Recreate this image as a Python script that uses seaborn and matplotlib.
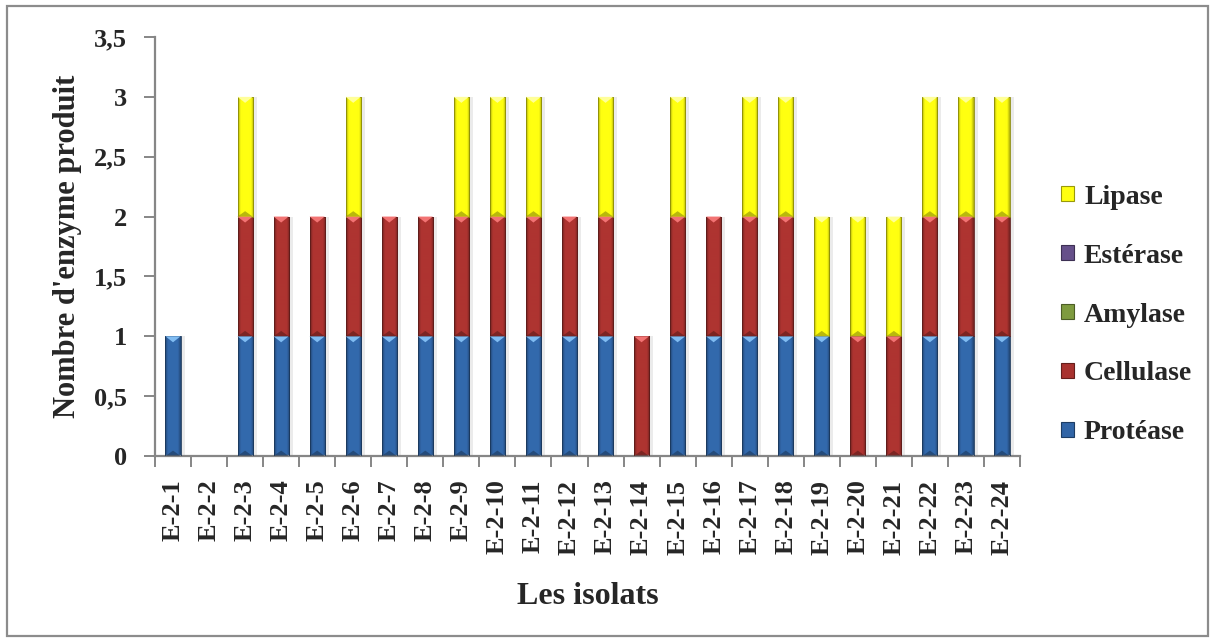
import numpy as np
import pandas as pd
import matplotlib
matplotlib.use("Agg")
import matplotlib.pyplot as plt
import seaborn as sns
from matplotlib.patches import Patch, Rectangle, Polygon
from matplotlib.colors import to_rgb

# ---- data -------------------------------------------------------------
isolats = ["E-2-1", "E-2-2", "E-2-3", "E-2-4", "E-2-5", "E-2-6", "E-2-7", "E-2-8",
           "E-2-9", "E-2-10", "E-2-11", "E-2-12", "E-2-13", "E-2-14", "E-2-15", "E-2-16",
           "E-2-17", "E-2-18", "E-2-19", "E-2-20", "E-2-21", "E-2-22", "E-2-23", "E-2-24"]

protease  = [1, 0, 1, 1, 1, 1, 1, 1, 1, 1, 1, 1, 1, 0, 1, 1, 1, 1, 1, 0, 0, 1, 1, 1]
cellulase = [0, 0, 1, 1, 1, 1, 1, 1, 1, 1, 1, 1, 1, 1, 1, 1, 1, 1, 0, 1, 1, 1, 1, 1]
amylase   = [0, 0, 0, 0, 0, 0, 0, 0, 0, 0, 0, 0, 0, 0, 0, 0, 0, 0, 0, 0, 0, 0, 0, 0]
esterase  = [0, 0, 0, 0, 0, 0, 0, 0, 0, 0, 0, 0, 0, 0, 0, 0, 0, 0, 0, 0, 0, 0, 0, 0]
lipase    = [0, 0, 1, 0, 0, 1, 0, 0, 1, 1, 1, 0, 1, 0, 1, 0, 1, 1, 1, 1, 1, 1, 1, 1]

enzymes = ["Protéase", "Cellulase", "Amylase", "Estérase", "Lipase"]
series = [protease, cellulase, amylase, esterase, lipase]
colors = ["#3165A6", "#A8322F", "#7E9B3F", "#66508A", "#FFFF10"]
highlights = ["#80BCF2", "#F27373", "#C4E07A", "#A68CCC", "#FFFF9A"]

y_ticks = [0, 0.5, 1, 1.5, 2, 2.5, 3, 3.5]
y_tick_labels = ["0", "0,5", "1", "1,5", "2", "2,5", "3", "3,5"]

# ---- style ------------------------------------------------------------
sns.set_theme(style="white")
plt.rcParams["font.family"] = ["Liberation Serif", "DejaVu Serif"]
plt.rcParams["font.weight"] = "bold"

W, H = 1216, 642
fig = plt.figure(figsize=(W / 100, H / 100), dpi=100)
fig.patch.set_facecolor("white")
ax = fig.add_axes([155 / W, 1 - 456 / H, (1020 - 155) / W, (456 - 37) / H])

df = pd.DataFrame({"isolat": isolats})
for name, vals in zip(enzymes, series):
    df[name] = vals

# ---- stacked bars -----------------------------------------------------
bottom = np.zeros(len(isolats))
segments = []
for name, col, hl in zip(enzymes, colors, highlights):
    vals = df[name].to_numpy(dtype=float)
    n_before = len(ax.patches)
    sns.barplot(data=df, x="isolat", y=name, bottom=bottom, color=col,
                saturation=1, width=0.42, ax=ax, edgecolor="none", linewidth=0)
    for p in ax.patches[n_before:]:
        segments.append((p, col, hl))
    bottom = bottom + vals

ax.set_xlim(-0.5, len(isolats) - 0.5)
ax.set_ylim(0, 3.5)

# bevelled look on every segment, with a soft shadow on the right
px_x = (len(isolats)) / (1020 - 155)
px_y = 3.5 / (456 - 37)
prof = np.linspace(0, 1, 64)
shade = 0.66 + 0.38 * np.clip(np.sin(np.pi * prof) * 1.8, 0, 1)
for p, col, hl in segments:
    x0, y0 = p.get_x(), p.get_y()
    w, h = p.get_width(), p.get_height()
    if h <= 0:
        continue
    base = np.array(to_rgb(col))
    ax.add_patch(Rectangle((x0 + 2 * px_x, y0), w + 2 * px_x, h, fc="#000000",
                           alpha=0.08, ec="none", zorder=1.5))
    img = np.clip(base[None, :] * shade[:, None], 0, 1)[None, :, :]
    im = ax.imshow(img, extent=(x0, x0 + w, y0, y0 + h), aspect="auto",
                   interpolation="bicubic", zorder=2, origin="lower")
    im.set_clip_path(p)
    p.set_edgecolor(tuple(base * 0.55))
    p.set_linewidth(0.6)
    p.set_zorder(3)
    p.set_facecolor("none")
    dy = 6 * px_y
    ax.add_patch(Polygon([(x0, y0 + h), (x0 + w, y0 + h), (x0 + w / 2, y0 + h - dy)],
                         closed=True, fc=hl, ec="none", zorder=4))
    ax.add_patch(Polygon([(x0, y0), (x0 + w, y0), (x0 + w / 2, y0 + dy * 0.9)],
                         closed=True, fc=tuple(base * 0.5), ec="none", alpha=0.55, zorder=4))

ax.set_xlim(-0.5, len(isolats) - 0.5)
ax.set_ylim(0, 3.5)

# ---- axes -------------------------------------------------------------
for s in ["top", "right"]:
    ax.spines[s].set_visible(False)
for s in ["left", "bottom"]:
    ax.spines[s].set_color("#868686")
    ax.spines[s].set_linewidth(1.6)

ax.set_yticks(y_ticks)
ax.set_yticklabels(y_tick_labels, fontsize=19, fontweight="bold")
ax.tick_params(axis="y", direction="out", length=8, width=1.4, color="#868686",
               pad=12, left=True)

ax.set_xticks(np.arange(-0.5, len(isolats), 1.0))
ax.set_xticklabels([])
ax.set_xticks(np.arange(len(isolats)), minor=True)
ax.set_xticklabels(isolats, minor=True, rotation=90, fontsize=19, fontweight="bold")
ax.tick_params(axis="x", which="major", direction="out", length=8, width=1.4,
               color="#868686", bottom=True)
ax.tick_params(axis="x", which="minor", length=0, pad=17, bottom=True)

ax.set_ylabel("Nombre d'enzyme produit", fontsize=22, fontweight="bold", labelpad=9)
ax.set_xlabel("Les isolats", fontsize=23, fontweight="bold")
ax.xaxis.set_label_coords(0.5, (456 - 597) / (456 - 37))
ax.xaxis.label.set_va("center")
ax.grid(False)

# ---- legend (reverse stacking order) ----------------------------------
handles = [Patch(facecolor=c, edgecolor=tuple(np.array(to_rgb(c)) * 0.6), linewidth=0.8, label=n)
           for n, c in zip(enzymes, colors)][::-1]
ax.legend(handles=handles, loc="center left",
          bbox_to_anchor=(1061 / W, 1 - 315 / H), bbox_transform=fig.transFigure,
          frameon=False, borderpad=0, borderaxespad=0,
          handlelength=0.47, handleheight=0.47, handletextpad=0.36,
          labelspacing=1.22, prop={"size": 20, "weight": "bold"})

# outer chart frame
fig.add_artist(Rectangle((7 / W, 6 / H), (1208 - 7) / W, (636 - 6) / H,
                         transform=fig.transFigure, fill=False,
                         edgecolor="#8c8c8c", linewidth=1.6))

fig.savefig("out.png", dpi=100, facecolor="white")
